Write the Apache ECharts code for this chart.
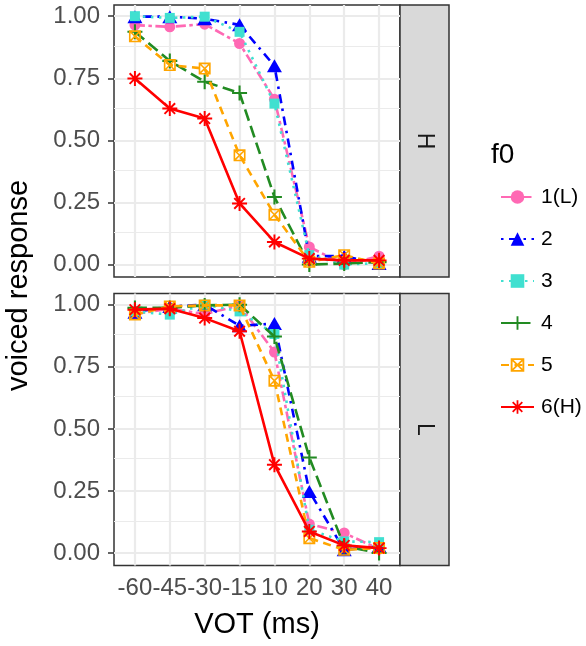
<!DOCTYPE html>
<html>
<head>
<meta charset="utf-8">
<script src="https://cdn.jsdelivr.net/npm/echarts@6/dist/echarts.min.js"></script>
<style>
  html, body { margin: 0; padding: 0; background: #fff; }
  #chart { width: 586px; height: 646px; }
</style>
</head>
<body>
<div id="chart"></div>
<script>
// VOT steps (x categories)
var votLabels = ['-60', '-45', '-30', '-15', '10', '20', '30', '40'];
var f0Names = ['1(L)', '2', '3', '4', '5', '6(H)'];
var panelNames = ['H', 'L'];
var yTicks = [0, 0.25, 0.5, 0.75, 1];
var yMinor = [0.125, 0.375, 0.625, 0.875];

// voiced response, panel H
var h1 = [0.964, 0.957, 0.968, 0.890, 0.666, 0.071, 0.000, 0.034];
var h2 = [0.998, 0.998, 0.990, 0.965, 0.800, 0.034, 0.034, 0.004];
var h3 = [1.000, 0.993, 0.998, 0.937, 0.648, 0.038, 0.000, 0.006];
var h4 = [0.937, 0.820, 0.736, 0.691, 0.272, 0.000, 0.004, 0.010];
var h5 = [0.919, 0.803, 0.789, 0.440, 0.201, 0.011, 0.038, 0.004];
var h6 = [0.749, 0.628, 0.588, 0.246, 0.091, 0.024, 0.017, 0.017];

// voiced response, panel L
var l1 = [0.962, 0.984, 0.962, 0.997, 0.809, 0.117, 0.081, 0.016];
var l2 = [0.970, 0.993, 1.000, 0.915, 0.924, 0.248, 0.013, 0.027];
var l3 = [0.973, 0.960, 1.000, 0.973, 0.882, 0.094, 0.047, 0.044];
var l4 = [0.987, 0.987, 0.997, 1.000, 0.872, 0.385, 0.027, 0.000];
var l5 = [0.960, 0.993, 0.997, 0.997, 0.694, 0.060, 0.013, 0.020];
var l6 = [0.980, 0.984, 0.946, 0.893, 0.356, 0.087, 0.031, 0.020];

var panelData = [[h1, h2, h3, h4, h5, h6], [l1, l2, l3, l4, l5, l6]];

var FONT = '"Liberation Sans", Arial, sans-serif';
var colors = ['#FF69B4', '#0000FF', '#40E0D0', '#228B22', '#FFA500', '#FF0000'];
var dashes = [[10, 3.5, 3.5, 3.5], [2.5, 5.5, 9, 5.5], [2.5, 5.5], [12, 5.5], [8, 5.5], 'solid'];

// rectangle bar rotated by angle a (same winding every time)
function bar(L, w, a) {
  var c = Math.cos(a), s = Math.sin(a);
  var pts = [[-L, -w], [L, -w], [L, w], [-L, w]].map(function (p) {
    return (p[0] * c - p[1] * s).toFixed(3) + ',' + (p[0] * s + p[1] * c).toFixed(3);
  });
  return 'M' + pts[0] + ' L' + pts[1] + ' L' + pts[2] + ' L' + pts[3] + ' Z ';
}
var plusPath = 'path://' + bar(6.5, 0.9, 0) + bar(6.5, 0.9, Math.PI / 2);
var starPath = 'path://' + bar(6.5, 0.85, 0) + bar(6.5, 0.85, Math.PI / 2) +
  bar(6.5, 0.85, Math.PI / 4) + bar(6.5, 0.85, -Math.PI / 4);
var boxXPath = 'path://M-5.5,-5.5 L5.5,-5.5 L5.5,5.5 L-5.5,5.5 Z ' +
  'M-4,-4 L-4,4 L4,4 L4,-4 Z ' + bar(5.6, 0.7, Math.PI / 4) + bar(5.6, 0.7, -Math.PI / 4);

var symbols = ['circle', 'triangle', 'rect', plusPath, boxXPath, starPath];
var symSizes = [11, [15, 13], 10, 15, 12, 15];

var panelTops = [5, 293.5];
var panelH = 272;

var grids = [], xAxes = [], yAxes = [], series = [], graphics = [];

panelTops.forEach(function (top, p) {
  grids.push({
    left: 114, top: top, width: 286, height: panelH,
    show: true, backgroundColor: '#fff', borderColor: '#333333', borderWidth: 1.5
  });
  var bottom = p === panelTops.length - 1;
  xAxes.push({
    type: 'value', gridIndex: p, min: 0.4, max: 8.6,
    axisLine: { show: false },
    splitLine: { show: false },
    axisTick: {
      show: bottom, length: 6, customValues: [1, 2, 3, 4, 5, 6, 7, 8],
      lineStyle: { color: '#333333', width: 1.5 }
    },
    axisLabel: {
      show: bottom, customValues: [1, 2, 3, 4, 5, 6, 7, 8], margin: 11,
      fontSize: 24, color: '#4d4d4d', fontFamily: FONT,
      formatter: function (v) { return votLabels[Math.round(v) - 1] || ''; }
    }
  });
  yAxes.push({
    type: 'value', gridIndex: p, min: -0.05, max: 1.045,
    axisLine: { show: false },
    splitLine: { show: false },
    axisTick: {
      show: true, length: 6, customValues: yTicks,
      lineStyle: { color: '#333333', width: 1.5 }
    },
    axisLabel: {
      customValues: yTicks, margin: 14,
      fontSize: 24, color: '#4d4d4d', fontFamily: FONT,
      formatter: function (v) { return v.toFixed(2); }
    }
  });

  // grid lines
  var gl = [];
  yMinor.forEach(function (v) { gl.push({ yAxis: v, lineStyle: { width: 1.2 } }); });
  yTicks.forEach(function (v) { gl.push({ yAxis: v, lineStyle: { width: 2.2 } }); });
  votLabels.forEach(function (v, i) { gl.push({ xAxis: i + 1, lineStyle: { width: 2.2 } }); });
  series.push({
    type: 'line', name: 'grid' + p, xAxisIndex: p, yAxisIndex: p, data: [],
    silent: true, z: 1,
    markLine: {
      silent: true, symbol: ['none', 'none'], animation: false, z: 1,
      label: { show: false },
      lineStyle: { color: '#ebebeb', type: 'solid' },
      data: gl
    }
  });

  panelData[p].forEach(function (vals, k) {
    series.push({
      type: 'line', name: f0Names[k], xAxisIndex: p, yAxisIndex: p, z: 3 + k,
      data: vals.map(function (v, i) { return [i + 1, v]; }),
      symbol: symbols[k], symbolSize: symSizes[k], showAllSymbol: true,
      lineStyle: { color: colors[k], width: 2.6, type: dashes[k] },
      itemStyle: { color: colors[k], opacity: 1 },
      emphasis: { disabled: true },
      animation: false
    });
  });

  // facet strip
  graphics.push({
    type: 'rect', shape: { x: 400, y: top, width: 49, height: panelH },
    style: { fill: '#d9d9d9', stroke: '#333333', lineWidth: 1.5 }
  });
  graphics.push({
    type: 'text', x: 424.5, y: top + panelH / 2, rotation: -Math.PI / 2,
    style: {
      text: panelNames[p], fill: '#1a1a1a', font: '23px ' + FONT,
      textAlign: 'center', textVerticalAlign: 'middle'
    }
  });
});

// axis titles and legend title
graphics.push({
  type: 'text', x: 19, y: 285.5, rotation: Math.PI / 2,
  style: {
    text: 'voiced response', fill: '#000', font: '29px ' + FONT,
    textAlign: 'center', textVerticalAlign: 'middle'
  }
});
graphics.push({
  type: 'text', x: 257, y: 625,
  style: {
    text: 'VOT (ms)', fill: '#000', font: '29px ' + FONT,
    textAlign: 'center', textVerticalAlign: 'middle'
  }
});
graphics.push({
  type: 'text', x: 491, y: 155,
  style: {
    text: 'f0', fill: '#000', font: '28px ' + FONT,
    textAlign: 'left', textVerticalAlign: 'middle'
  }
});

var chart = echarts.init(document.getElementById('chart'), null, { renderer: 'canvas' });
chart.setOption({
  backgroundColor: '#fff',
  animation: false,
  grid: grids,
  xAxis: xAxes,
  yAxis: yAxes,
  legend: {
    data: f0Names, orient: 'vertical', left: 495, top: 181,
    itemWidth: 33, itemHeight: 17, itemGap: 20,
    selectedMode: false,
    textStyle: { fontSize: 21, lineHeight: 22, color: '#000', fontFamily: FONT, padding: [0, 0, 0, 2] }
  },
  series: series,
  graphic: graphics
});
</script>
</body>
</html>
